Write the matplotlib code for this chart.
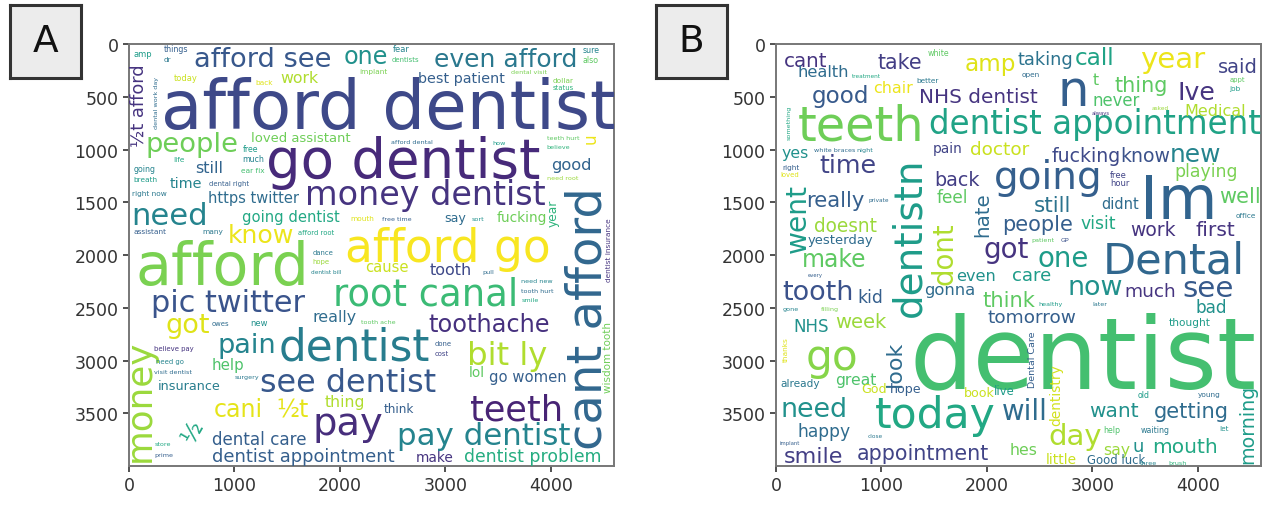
import matplotlib
matplotlib.use("Agg")
import matplotlib.pyplot as plt

# word cloud canvas (pixels of the cloud image)
CLOUD_W, CLOUD_H = 4600, 4000
x_ticks = [0, 1000, 2000, 3000, 4000]
y_ticks = [0, 500, 1000, 1500, 2000, 2500, 3000, 3500]
panel_labels = ["A", "B"]

# panel A: word -> font size in the cloud (frequency weight)
a_freq = {
    "afford dentist": 640, "go dentist": 518, "money dentist": 316, "afford": 556,
    "afford go": 432, "cant afford": 457, "root canal": 350, "pic twitter": 287,
    "dentist": 415, "see dentist": 301, "bit ly": 307, "toothache": 228,
    "teeth": 333, "pay dentist": 293, "pay": 365, "money": 338,
    "afford see": 259, "one": 227, "even afford": 237, "people": 260,
    "need": 291, "know": 239, "got": 257, "pain": 257, "cani": 225, "½t": 225,
    "½": 220, "dental care": 159, "dentist appointment": 169, "dentist problem": 164,
    "work": 150, "best patient": 136, "loved assistant": 125, "still": 153,
    "time": 136, "https twitter": 139, "going dentist": 140, "good": 154,
    "fucking": 131, "say": 120, "cause": 140, "tooth": 152, "really": 151,
    "help": 142, "insurance": 121, "thing": 149, "think": 114, "lol": 130,
    "go women": 140, "make": 131, "u": 160, "½t afford": 170, "year": 116,
    "wisdom tooth": 98, "dentist insurance": 70,
    "amp": 80, "things": 75, "dr": 70, "fear": 80, "dentists": 65, "sure": 75,
    "also": 75, "today": 80, "back": 70, "implant": 70, "dental visit": 60,
    "dollar": 70, "status": 65, "dental work day": 60, "teeth hurt": 60,
    "believe": 60, "need root": 60, "afford dental": 60, "how": 60, "going": 75,
    "life": 70, "breath": 70, "free": 75, "much": 75, "ear fix": 70,
    "dental right": 65, "right now": 70, "mouth": 70, "free time": 60, "sort": 60,
    "assistant": 70, "many": 70, "afford root": 65, "dance": 65, "hope": 65,
    "dentist bill": 55, "pull": 60, "need new": 60, "tooth hurt": 60, "smile": 60,
    "owes": 65, "new": 80, "tooth ache": 60, "done": 65, "cost": 65,
    "believe pay": 65, "need go": 65, "visit dentist": 60, "surgery": 60,
    "store": 60, "prime": 60,
}

# panel B: word -> font size in the cloud
b_freq = {
    "dentist": 950, "teeth": 454, "dentist appointment": 309, "n": 470,
    "going": 370, "Im": 580, "Dental": 409, "dentistn": 370, "today": 403,
    "go": 400, "cant": 189, "health": 154, "take": 196, "amp": 220,
    "taking": 168, "call": 219, "year": 278, "said": 184, "good": 218,
    "chair": 151, "NHS dentist": 190, "t": 150, "thing": 197, "Ive": 238,
    "never": 157, "Medical": 152, "yes": 150, "pain": 130, "doctor": 175,
    "time": 241, "fucking": 179, "know": 179, "new": 236, "back": 182,
    "playing": 164, "well": 198, "went": 267, "really": 202, "feel": 161,
    "still": 204, "didnt": 139, "hate": 188, "dont": 262, "people": 199,
    "visit": 164, "work": 178, "first": 192, "doesnt": 176, "yesterday": 124,
    "got": 263, "one": 262, "make": 223, "tooth": 256, "kid": 164,
    "even": 153, "care": 172, "gonna": 156, "now": 255, "much": 175,
    "see": 279, "think": 201, "tomorrow": 175, "bad": 160, "thought": 100,
    "NHS": 158, "week": 186, "look": 211, "great": 148, "need": 255,
    "will": 262, "want": 191, "getting": 199, "day": 276, "say": 150,
    "u": 170, "mouth": 191, "hes": 149, "happy": 163, "smile": 211,
    "appointment": 196, "little": 130, "Good luck": 110, "morning": 180,
    "dentistry": 130, "Dental Care": 90, "hope": 120, "book": 120,
    "live": 110, "already": 100, "God": 120,
    "something": 60, "white": 75, "treatment": 55, "better": 70, "open": 70,
    "appt": 65, "job": 70, "asked": 55, "always": 50, "free": 80, "hour": 80,
    "office": 70, "right": 70, "white braces": 60, "night": 60, "private": 55,
    "patient": 60, "GP": 60, "healthy": 60, "later": 60, "filling": 60,
    "gone": 60, "thanks": 70, "close": 55, "implant": 50, "three": 60,
    "brush": 60, "young": 70, "old": 75, "let": 70, "help": 75,
    "waiting": 75, "every": 50, "loved": 65,
}

# layout of the cloud: word -> (x, baseline y, rotation, colour tone on viridis)
a_place = {
    "afford dentist": (300, 800, 0, .22), "go dentist": (1303, 1261, 0, .12),
    "money dentist": (1667, 1515, 0, .15), "afford": (57, 2270, 0, .80),
    "afford go": (2051, 2057, 0, .99), "cant afford": (4484, 3839, 90, .33),
    "root canal": (1936, 2465, 0, .68), "pic twitter": (211, 2531, 0, .26),
    "dentist": (1418, 2986, 0, .42), "see dentist": (1246, 3290, 0, .27),
    "bit ly": (3210, 3033, 0, .88), "toothache": (2836, 2720, 0, .14),
    "teeth": (3230, 3555, 0, .10), "pay dentist": (2540, 3792, 0, .45),
    "pay": (1744, 3697, 0, .13), "money": (192, 3953, 90, .85),
    "afford see": (613, 209, 0, .27), "one": (2031, 180, 0, .50),
    "even afford": (2894, 209, 0, .40), "people": (153, 1014, 0, .78),
    "need": (19, 1706, 0, .45), "know": (939, 1877, 0, .97),
    "got": (345, 2730, 0, .95), "pain": (843, 2920, 0, .45),
    "cani": (805, 3527, 0, .96), "½t": (1399, 3527, 0, .96),
    "½": (600, 3790, 60, .60), "dental care": (786, 3792, 0, .30),
    "dentist appointment": (786, 3953, 0, .30), "dentist problem": (3181, 3953, 0, .62),
    "work": (1437, 360, 0, .88), "best patient": (2740, 360, 0, .30),
    "loved assistant": (1160, 920, 0, .78), "still": (632, 1213, 0, .32),
    "time": (383, 1356, 0, .45), "https twitter": (747, 1498, 0, .35),
    "going dentist": (1073, 1678, 0, .60), "good": (4005, 1185, 0, .32),
    "fucking": (3488, 1678, 0, .78), "say": (2990, 1678, 0, .35),
    "cause": (2242, 2150, 0, .92), "tooth": (2855, 2180, 0, .22),
    "really": (1744, 2626, 0, .35), "help": (786, 3081, 0, .72),
    "insurance": (268, 3271, 0, .42), "thing": (1859, 3432, 0, .88),
    "think": (2415, 3489, 0, .30), "lol": (3220, 3147, 0, .75),
    "go women": (3411, 3195, 0, .30), "make": (2721, 3953, 0, .15),
    "u": (4427, 939, 90, .97), "½t afford": (142, 970, 90, .15),
    "year": (4060, 1725, 90, .65), "wisdom tooth": (4570, 3300, 90, .78),
    "dentist insurance": (4570, 2250, 90, .15),
    "amp": (40, 110, 0, .55), "things": (330, 70, 0, .30), "dr": (330, 160, 0, .40),
    "fear": (2500, 70, 0, .45), "dentists": (2490, 160, 0, .70),
    "sure": (4300, 80, 0, .45), "also": (4300, 170, 0, .75),
    "today": (420, 340, 0, .92), "back": (1200, 380, 0, .95),
    "implant": (2180, 270, 0, .80), "dental visit": (3620, 270, 0, .80),
    "dollar": (4020, 360, 0, .80), "status": (4020, 430, 0, .65),
    "dental work day": (270, 800, 90, .35), "teeth hurt": (3960, 900, 0, .75),
    "believe": (3960, 990, 0, .65), "need root": (3960, 1280, 0, .85),
    "afford dental": (2480, 940, 0, .35), "how": (3450, 950, 0, .55),
    "going": (40, 1200, 0, .45), "life": (420, 1110, 0, .60),
    "breath": (40, 1300, 0, .55), "free": (1075, 1010, 0, .55),
    "much": (1075, 1110, 0, .45), "ear fix": (1060, 1210, 0, .70),
    "dental right": (760, 1340, 0, .30), "right now": (30, 1430, 0, .40),
    "mouth": (2100, 1670, 0, .95), "free time": (2400, 1670, 0, .30),
    "sort": (3250, 1670, 0, .50), "assistant": (40, 1790, 0, .30),
    "many": (700, 1790, 0, .40), "afford root": (1600, 1800, 0, .60),
    "dance": (1740, 1990, 0, .40), "hope": (1740, 2080, 0, .85),
    "dentist bill": (1730, 2170, 0, .45), "pull": (3350, 2170, 0, .35),
    "need new": (3720, 2260, 0, .45), "tooth hurt": (3720, 2350, 0, .35),
    "smile": (3720, 2440, 0, .60), "owes": (780, 2660, 0, .35),
    "new": (1150, 2660, 0, .50), "tooth ache": (2200, 2640, 0, .75),
    "done": (2900, 2850, 0, .30), "cost": (2900, 2950, 0, .20),
    "believe pay": (240, 2900, 0, .15), "need go": (260, 3020, 0, .45),
    "visit dentist": (240, 3120, 0, .35), "surgery": (1000, 3170, 0, .40),
    "store": (240, 3800, 0, .60), "prime": (240, 3900, 0, .30),
}

b_place = {
    "dentist": (1270, 3252, 0, .70), "teeth": (207, 901, 0, .78),
    "dentist appointment": (1446, 845, 0, .58), "n": (2667, 575, 0, .30),
    "going": (2066, 1365, 0, .30), "Im": (3456, 1650, 0, .32),
    "Dental": (3099, 2161, 0, .33), "dentistn": (1371, 2579, 90, .55),
    "today": (939, 3631, 0, .60), "go": (282, 3081, 0, .82),
    "cant": (75, 209, 0, .15), "health": (207, 303, 0, .35),
    "take": (958, 228, 0, .18), "amp": (1784, 250, 0, .95),
    "taking": (2291, 190, 0, .38), "call": (2836, 190, 0, .58),
    "year": (3456, 218, 0, .97), "said": (4188, 265, 0, .20),
    "good": (338, 550, 0, .28), "chair": (920, 455, 0, .97),
    "NHS dentist": (1352, 550, 0, .15), "t": (3005, 380, 0, .75),
    "thing": (3211, 446, 0, .75), "Ive": (3812, 521, 0, .15),
    "never": (3005, 578, 0, .72), "Medical": (3869, 673, 0, .88),
    "yes": (56, 1071, 0, .50), "pain": (1484, 1024, 0, .20),
    "doctor": (1840, 1043, 0, .92), "time": (413, 1213, 0, .20),
    "fucking": (2610, 1109, 0, .22), "know": (3265, 1109, 0, .25),
    "new": (3737, 1109, 0, .45), "back": (1502, 1337, 0, .18),
    "playing": (3775, 1251, 0, .80), "well": (4207, 1500, 0, .75),
    "went": (282, 1972, 90, .55), "really": (282, 1536, 0, .30),
    "feel": (1521, 1498, 0, .75), "still": (2441, 1580, 0, .38),
    "didnt": (3080, 1550, 0, .35), "hate": (2009, 1820, 90, .35),
    "dont": (1671, 2275, 90, .88), "people": (2141, 1760, 0, .30),
    "visit": (2892, 1740, 0, .60), "work": (3362, 1810, 0, .15),
    "first": (3981, 1810, 0, .15), "doesnt": (357, 1773, 0, .85),
    "yesterday": (300, 1887, 0, .35), "got": (1972, 2020, 0, .15),
    "one": (2479, 2100, 0, .55), "make": (244, 2105, 0, .75),
    "tooth": (56, 2417, 0, .25), "kid": (770, 2446, 0, .30),
    "even": (1709, 2240, 0, .50), "care": (2235, 2240, 0, .55),
    "gonna": (1408, 2370, 0, .35), "now": (2761, 2370, 0, .50),
    "much": (3305, 2389, 0, .15), "see": (3850, 2389, 0, .28),
    "think": (1953, 2480, 0, .75), "tomorrow": (2009, 2635, 0, .30),
    "bad": (3981, 2541, 0, .50), "thought": (3720, 2660, 0, .55),
    "NHS": (169, 2720, 0, .50), "week": (563, 2683, 0, .85),
    "look": (1183, 3242, 90, .35), "great": (563, 3223, 0, .72),
    "need": (38, 3527, 0, .50), "will": (2141, 3555, 0, .35),
    "want": (2967, 3527, 0, .50), "getting": (3587, 3536, 0, .35),
    "day": (2580, 3792, 0, .88), "say": (3100, 3887, 0, .85),
    "u": (3380, 3860, 0, .50), "mouth": (3568, 3870, 0, .60),
    "hes": (2216, 3887, 0, .78), "happy": (207, 3716, 0, .35),
    "smile": (75, 3963, 0, .18), "appointment": (770, 3934, 0, .20),
    "little": (2554, 3975, 0, .92), "Good luck": (2948, 3975, 0, .35),
    "morning": (4526, 3975, 90, .55), "dentistry": (2700, 3610, 90, .93),
    "Dental Care": (2460, 3255, 90, .30), "hope": (1080, 3300, 0, .30),
    "book": (1784, 3340, 0, .92), "live": (2066, 3318, 0, .55),
    "already": (38, 3240, 0, .40), "God": (807, 3300, 0, .92),
    "something": (140, 900, 90, .60), "white": (1440, 100, 0, .75),
    "treatment": (720, 310, 0, .60), "better": (1330, 360, 0, .40),
    "open": (2330, 300, 0, .35), "appt": (4300, 350, 0, .75),
    "job": (4300, 440, 0, .55), "asked": (3560, 620, 0, .85),
    "always": (2990, 660, 0, .15), "free": (3170, 1260, 0, .20),
    "hour": (3170, 1340, 0, .20), "office": (4360, 1640, 0, .40),
    "right": (60, 1180, 0, .30), "white braces": (360, 1010, 0, .35),
    "night": (760, 1010, 0, .45), "private": (880, 1490, 0, .35),
    "patient": (2420, 1870, 0, .75), "GP": (2700, 1870, 0, .25),
    "healthy": (2490, 2470, 0, .55), "later": (3000, 2470, 0, .40),
    "filling": (420, 2520, 0, .80), "gone": (60, 2520, 0, .45),
    "thanks": (110, 3000, 90, .95), "close": (870, 3720, 0, .40),
    "implant": (30, 3790, 0, .30), "three": (3450, 3985, 0, .45),
    "brush": (3720, 3985, 0, .65), "young": (4000, 3340, 0, .35),
    "old": (3430, 3350, 0, .55), "let": (4200, 3660, 0, .50),
    "help": (3100, 3680, 0, .72), "waiting": (3460, 3680, 0, .40),
    "every": (300, 2195, 0, .30), "loved": (40, 1250, 0, .95),
}

FIG_W, FIG_H, DPI = 1265, 510, 100
fig = plt.figure(figsize=(FIG_W / DPI, FIG_H / DPI), dpi=DPI)
cmap = plt.get_cmap("viridis")

ax_w, ax_h = 485, 422
ax_left = [129, 776]
ax_bottom = FIG_H - 467
pt_per_unit = ax_w / CLOUD_W * 72 / DPI


def draw_cloud(ax, freq, place):
    for word, size in freq.items():
        x, y, rot, tone = place[word]
        ax.text(x, y, word, fontsize=size * pt_per_unit, color=cmap(tone),
                family="DejaVu Sans", ha="left", va="baseline",
                rotation=rot, rotation_mode="anchor", clip_on=True)


for i, (freq, place) in enumerate([(a_freq, a_place), (b_freq, b_place)]):
    ax = fig.add_axes([ax_left[i] / FIG_W, ax_bottom / FIG_H, ax_w / FIG_W, ax_h / FIG_H])
    ax.set_xlim(-0.5, CLOUD_W - 0.5)
    ax.set_ylim(CLOUD_H - 0.5, -0.5)
    ax.set_facecolor("white")
    draw_cloud(ax, freq, place)
    ax.set_xticks(x_ticks)
    ax.set_yticks(y_ticks)
    ax.tick_params(labelsize=12.5, colors="#333333", length=4, width=1.2)
    for s in ax.spines.values():
        s.set_color("#777777")
        s.set_linewidth(1.4)

    # letter box
    box_x = [10, 656][i]
    lab = fig.add_axes([box_x / FIG_W, 1 - 79 / FIG_H, 71 / FIG_W, 73 / FIG_H])
    lab.set_facecolor("#ececec")
    lab.set_xticks([])
    lab.set_yticks([])
    for s in lab.spines.values():
        s.set_color("#333333")
        s.set_linewidth(2.2)
    lab.text(0.5, 0.5, panel_labels[i], fontsize=27, ha="center", va="center",
             color="#111111", transform=lab.transAxes)

fig.savefig("out.png", dpi=DPI)
